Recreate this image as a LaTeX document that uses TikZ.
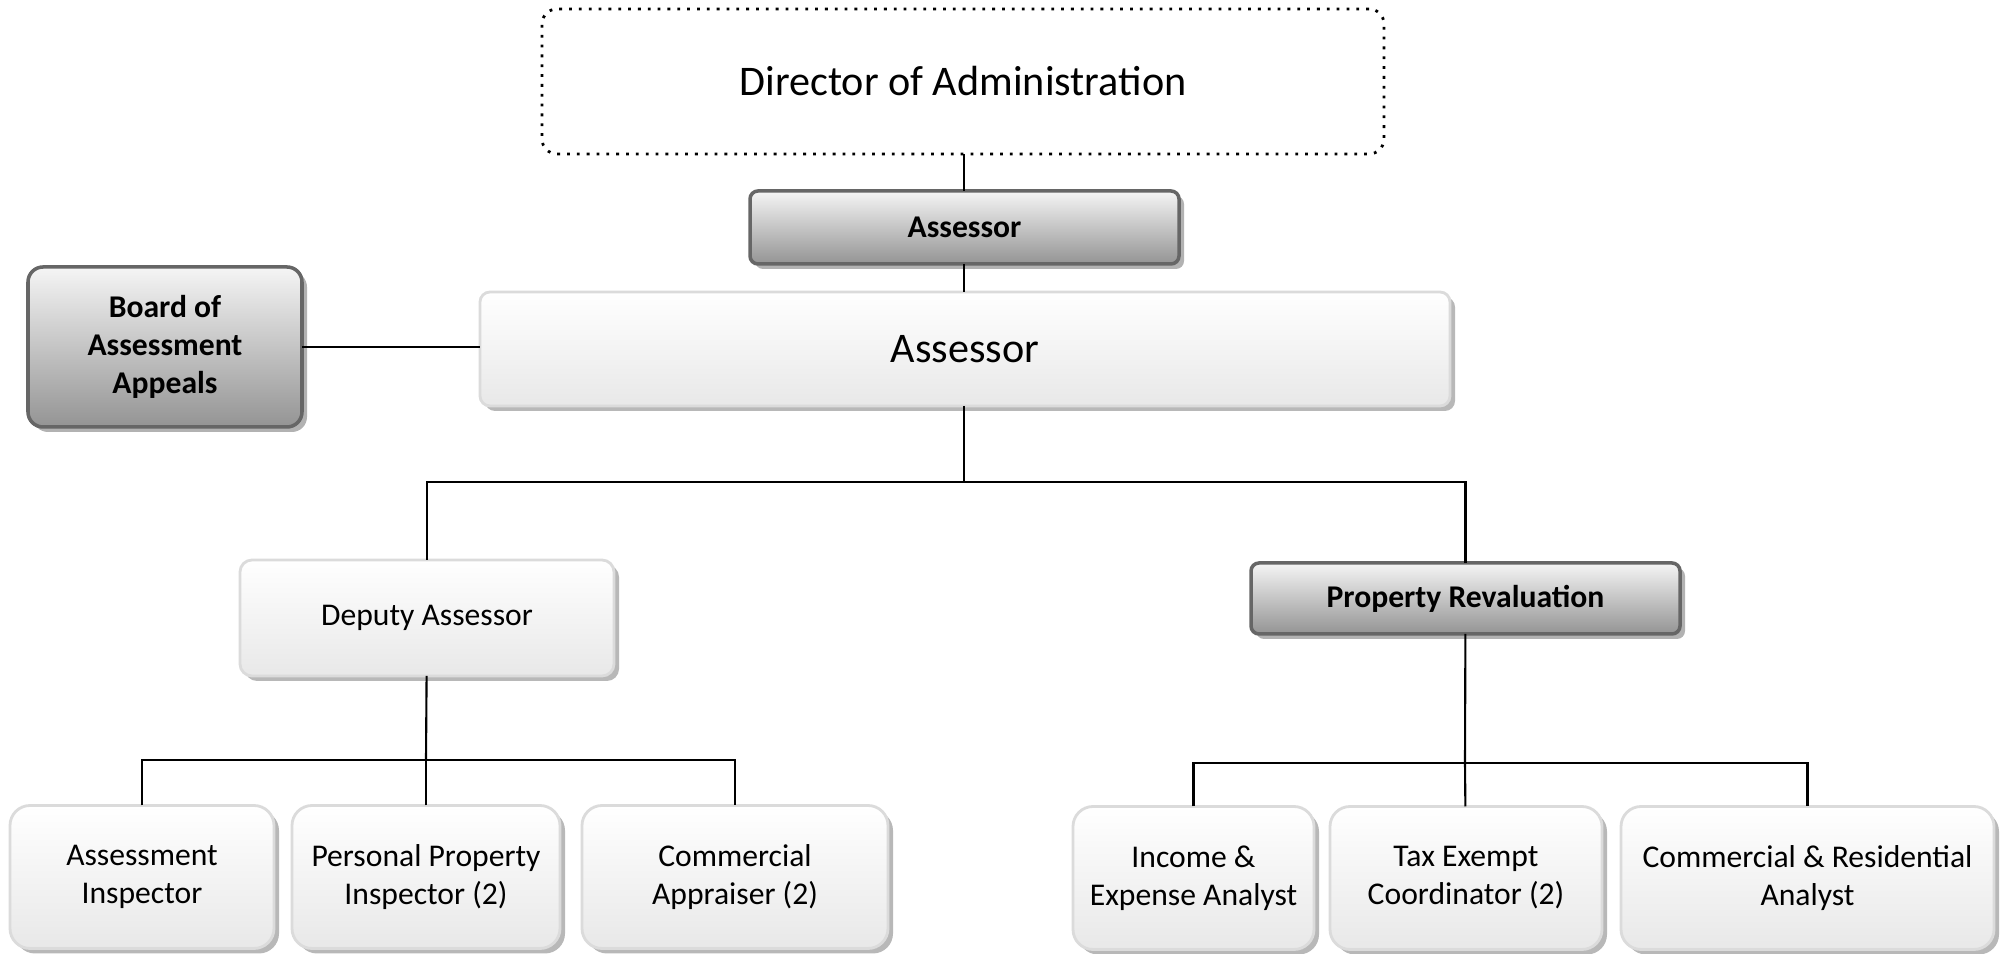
\documentclass[tikz,border=0pt]{standalone}
\usepackage{fontspec}
\setmainfont{Carlito}
\usetikzlibrary{shadows}

\begin{document}
\begin{tikzpicture}[outer sep=0pt, inner sep=0pt, line width=0.6pt]
\tikzstyle{dark}=[draw=black!60, line width=1pt, rounded corners=0.08cm,
    top color=black!4, bottom color=black!42, text centered, align=center,
    font=\fontsize{9}{10.8}\selectfont\bfseries,
    drop shadow={shadow xshift=0.05cm, shadow yshift=-0.05cm, fill=black!30, opacity=1}]
\tikzstyle{light}=[draw=black!14, line width=0.8pt, rounded corners=0.2cm,
    top color=white, bottom color=black!9, text centered, align=center,
    font=\fontsize{9}{10.8}\selectfont,
    drop shadow={shadow xshift=0.05cm, shadow yshift=-0.05cm, fill=black!28, opacity=1}]
    \useasboundingbox (0,0) rectangle (20,-9.54);
    % top of the chart
    \node (dir) [draw, dotted, line width=0.8pt, rounded corners=0.15cm, minimum width=8.42cm,
        minimum height=1.45cm, font=\fontsize{12}{14.6}\selectfont] at (9.63,-0.815) {Director of Administration};
    \node (ass) [dark, minimum width=4.29cm, minimum height=0.73cm] at (9.645,-2.275) {Assessor};
    \node (asr) [light, rounded corners=0.1cm, minimum width=9.7cm, minimum height=1.14cm,
        font=\fontsize{12}{14.6}\selectfont] at (9.65,-3.49) {Assessor};
    \node (board) [dark, rounded corners=0.15cm, minimum width=2.74cm, minimum height=1.6cm] at (1.65,-3.47) {Board of\\Assessment\\Appeals};
    % second level
    \node (dep) [light, rounded corners=0.12cm, minimum width=3.74cm, minimum height=1.16cm] at (4.27,-6.18) {Deputy Assessor};
    \node (rev) [dark, minimum width=4.29cm, minimum height=0.71cm] at (14.655,-5.985) {Property Revaluation};
    % bottom row
    \node (i1) [light, minimum width=2.64cm, minimum height=1.43cm] at (1.42,-8.77) {Assessment\\Inspector};
    \node (i2) [light, minimum width=2.68cm, minimum height=1.43cm] at (4.26,-8.77) {Personal Property\\Inspector (2)};
    \node (i3) [light, minimum width=3.06cm, minimum height=1.43cm] at (7.35,-8.77) {Commercial\\Appraiser (2)};
    \node (r1) [light, minimum width=2.41cm, minimum height=1.43cm] at (11.935,-8.78) {Income \&\\Expense Analyst};
    \node (r2) [light, minimum width=2.72cm, minimum height=1.43cm] at (14.66,-8.78) {Tax Exempt\\Coordinator (2)};
    \node (r3) [light, minimum width=3.73cm, minimum height=1.43cm] at (18.075,-8.78) {Commercial \& Residential\\Analyst};
    % branch points
    \coordinate (t1) at (9.64,-4.82);
    \coordinate (t2) at (4.26,-7.60);
    \coordinate (t3) at (14.65,-7.63);
    % connectors
    \draw (dir.south -| t1) -- (ass.north -| t1);
    \draw (ass.south -| t1) -- (asr.north -| t1);
    \draw (board) -- (asr.west |- board);
    \draw (asr.south -| t1) -- (t1);
    \draw (dep) |- (t1) -| (rev);
    \draw (dep) -- (t2);
    \draw (i1) |- (t2) -| (i3);
    \draw (i2) -- (t2);
    \draw (rev) -- (t3);
    \draw (r1) |- (t3) -| (r3);
    \draw (r2) -- (t3);
\end{tikzpicture}
\end{document}
